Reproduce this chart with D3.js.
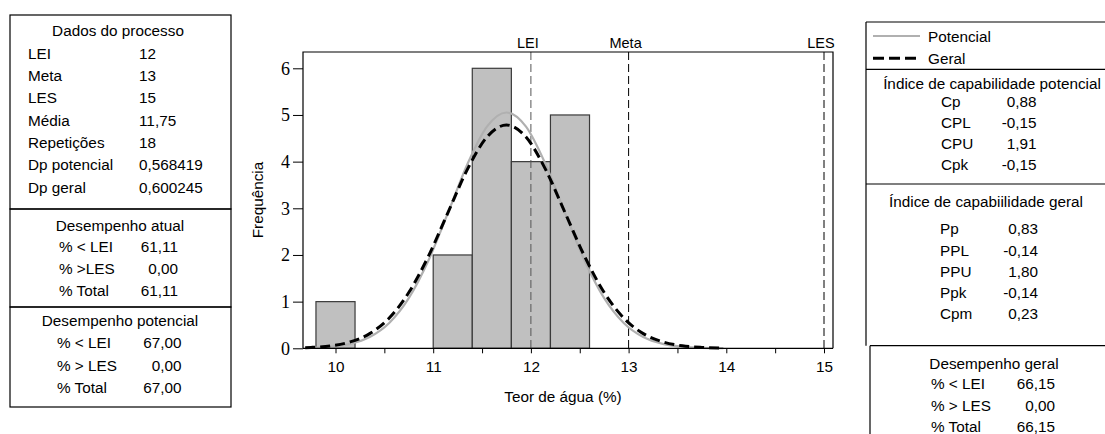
<!DOCTYPE html>
<html>
<head>
<meta charset="utf-8">
<script src="https://cdn.jsdelivr.net/npm/d3@7"></script>
<style>
  body { margin: 0; background: #fff; }
  svg { display: block; }
  text { font-family: "Liberation Sans", Arial, sans-serif; fill: #000; }
</style>
</head>
<body>
<svg id="chart" width="1105" height="434"></svg>
<script>
// ---------- Data ----------
const binLower = [9.8, 11.0, 11.4, 11.8, 12.2];
const binUpper = [10.2, 11.4, 11.8, 12.2, 12.6];
const frequency = [1, 2, 6, 4, 5];

const curveX = [9.69, 9.75, 9.95, 10.15, 10.35, 10.55, 10.75, 10.95, 11.15, 11.35, 11.55, 11.75,
                11.95, 12.15, 12.35, 12.55, 12.75, 12.95, 13.15, 13.35, 13.55, 13.75, 13.97];
const potencialY = [0.007, 0.010, 0.034, 0.096, 0.243, 0.544, 1.075, 1.877, 2.895, 3.945, 4.750, 5.053,
                    4.750, 3.945, 2.895, 1.877, 1.075, 0.544, 0.243, 0.096, 0.034, 0.010, 0.003];
const geralY = [0.013, 0.019, 0.053, 0.137, 0.315, 0.649, 1.195, 1.969, 2.904, 3.833, 4.527, 4.785,
                4.527, 3.833, 2.904, 1.969, 1.195, 0.649, 0.315, 0.137, 0.053, 0.019, 0.005];

const refNames = ["LEI", "Meta", "LES"];
const refValues = [12, 13, 15];

const xTicksMajor = [10, 11, 12, 13, 14, 15];
const xTicksAll = [10, 10.5, 11, 11.5, 12, 12.5, 13, 13.5, 14, 14.5, 15];
const yTicks = [0, 1, 2, 3, 4, 5, 6];

const processTitle = "Dados do processo";
const processLabels = ["LEI", "Meta", "LES", "Média", "Repetições", "Dp potencial", "Dp geral"];
const processValues = ["12", "13", "15", "11,75", "18", "0,568419", "0,600245"];

const atualTitle = "Desempenho atual";
const atualLabels = ["% < LEI", "% >LES", "% Total"];
const atualValues = ["61,11", "0,00", "61,11"];

const potTitle = "Desempenho potencial";
const potLabels = ["% < LEI", "% > LES", "% Total"];
const potValues = ["67,00", "0,00", "67,00"];

const legendNames = ["Potencial", "Geral"];

const cpTitle = "Índice de capabilidade potencial";
const cpLabels = ["Cp", "CPL", "CPU", "Cpk"];
const cpValues = ["0,88", "-0,15", "1,91", "-0,15"];

const ppTitle = "Índice de capabiilidade geral";
const ppLabels = ["Pp", "PPL", "PPU", "Ppk", "Cpm"];
const ppValues = ["0,83", "-0,14", "1,80", "-0,14", "0,23"];

const geralTitle = "Desempenho geral";
const geralLabels = ["% < LEI", "% > LES", "% Total"];
const geralValues = ["66,15", "0,00", "66,15"];

// ---------- Layout ----------
const svg = d3.select("#chart");
svg.append("rect").attr("width", 1105).attr("height", 434).attr("fill", "#fff");

const FS = 15.3;
const plot = { left: 303, right: 833, top: 52, bottom: 348.3 };
const x = d3.scaleLinear().domain([10, 15]).range([335.5, 824]);
const y = d3.scaleLinear().domain([0, 6]).range([348.3, 68.3]);

const g = svg.append("g");

// bars
g.selectAll("rect.bar").data(frequency).enter().append("rect")
  .attr("class", "bar")
  .attr("x", (d, i) => x(binLower[i]))
  .attr("width", (d, i) => x(binUpper[i]) - x(binLower[i]))
  .attr("y", d => y(d))
  .attr("height", d => y(0) - y(d))
  .attr("fill", "#c0c0c0")
  .attr("stroke", "#3a3a3a")
  .attr("stroke-width", 1.2);

// reference lines
g.selectAll("line.ref").data(refValues).enter().append("line")
  .attr("x1", d => x(d)).attr("x2", d => x(d))
  .attr("y1", plot.top).attr("y2", plot.bottom)
  .attr("stroke", (d, i) => i === 0 ? "#555" : "#000")
  .attr("stroke-width", 1)
  .attr("stroke-dasharray", "8,4");

g.selectAll("text.ref").data(refValues).enter().append("text")
  .attr("x", d => x(d) - 3).attr("y", 48)
  .attr("text-anchor", "middle")
  .style("font-size", "14.5px")
  .text((d, i) => refNames[i]);

// curves
const lineGen = ys => d3.line()
  .x((d, i) => x(curveX[i]))
  .y((d, i) => y(ys[i]))
  .curve(d3.curveMonotoneX)(ys);

g.append("path").attr("d", lineGen(potencialY))
  .attr("fill", "none").attr("stroke", "#b0b0b0").attr("stroke-width", 2.2);
g.append("path").attr("d", lineGen(geralY))
  .attr("fill", "none").attr("stroke", "#000").attr("stroke-width", 3)
  .attr("stroke-dasharray", "10,5");

// frame
g.append("path")
  .attr("d", `M${plot.left},${plot.bottom}V${plot.top}H${plot.right}V${plot.bottom}`)
  .attr("fill", "none").attr("stroke", "#000").attr("stroke-width", 1.2);

// x axis
const xAxis = d3.axisBottom(x).tickValues(xTicksAll).tickSize(5).tickPadding(8)
  .tickFormat(d => xTicksMajor.includes(d) ? d3.format("d")(d) : "");
const xg = svg.append("g").attr("transform", `translate(0,${plot.bottom})`).call(xAxis);
xg.select(".domain").attr("d", `M${plot.left},0H${plot.right}`).attr("stroke-width", 1.2);
xg.selectAll("text").style("font-size", FS + "px").style("font-family", "'Liberation Sans', Arial, sans-serif");

// y axis
const yAxis = d3.axisLeft(y).tickValues(yTicks).tickSize(10).tickPadding(3).tickFormat(d3.format("d"));
const yg = svg.append("g").attr("transform", `translate(${plot.left},0)`).call(yAxis);
yg.select(".domain").remove();
yg.selectAll("text").style("font-size", "18px").style("font-family", "'Liberation Serif', 'Times New Roman', serif");

// axis titles
svg.append("text").attr("x", 563).attr("y", 402).attr("text-anchor", "middle")
  .style("font-size", FS + "px").text("Teor de água (%)");
svg.append("text").attr("transform", "translate(263,200) rotate(-90)").attr("text-anchor", "middle")
  .style("font-size", FS + "px").text("Frequência");

// ---------- Tables ----------
function hline(x1, x2, yy) {
  svg.append("line").attr("x1", x1).attr("x2", x2).attr("y1", yy).attr("y2", yy)
    .attr("stroke", "#000").attr("stroke-width", 1.2);
}
function vline(xx, y1, y2) {
  svg.append("line").attr("x1", xx).attr("x2", xx).attr("y1", y1).attr("y2", y2)
    .attr("stroke", "#000").attr("stroke-width", 1.2);
}
function txt(tx, ty, s, anchor) {
  svg.append("text").attr("x", tx).attr("y", ty + 5.5)
    .attr("text-anchor", anchor || "start")
    .style("font-size", FS + "px").text(s);
}

// left boxes
svg.append("rect").attr("x", 10).attr("y", 15).attr("width", 221).attr("height", 194)
  .attr("fill", "none").attr("stroke", "#000").attr("stroke-width", 1.2);
svg.append("rect").attr("x", 10).attr("y", 209).attr("width", 221).attr("height", 98)
  .attr("fill", "none").attr("stroke", "#000").attr("stroke-width", 1.2);
svg.append("rect").attr("x", 10).attr("y", 307).attr("width", 221).attr("height", 100)
  .attr("fill", "none").attr("stroke", "#000").attr("stroke-width", 1.2);

txt(118, 30, processTitle, "middle");
processLabels.forEach((l, i) => {
  txt(28, 53.3 + i * 22.33, l);
  txt(139, 53.3 + i * 22.33, processValues[i]);
});

txt(120, 225, atualTitle, "middle");
atualLabels.forEach((l, i) => {
  txt(59, 246.7 + i * 21.7, l);
  txt(178, 246.7 + i * 21.7, atualValues[i], "end");
});

txt(120, 320, potTitle, "middle");
potLabels.forEach((l, i) => {
  txt(57, 342.7 + i * 22.5, l);
  txt(181.5, 342.7 + i * 22.5, potValues[i], "end");
});

// right boxes
hline(866, 1105, 22);
vline(866, 22, 345.7);
hline(866, 1105, 69.3);
hline(866, 1105, 184);
hline(870, 1105, 345.7);
vline(870, 345.7, 434);

// legend
svg.append("line").attr("x1", 873).attr("x2", 920).attr("y1", 36).attr("y2", 36)
  .attr("stroke", "#b0b0b0").attr("stroke-width", 2.2);
svg.append("line").attr("x1", 873).attr("x2", 920).attr("y1", 58.3).attr("y2", 58.3)
  .attr("stroke", "#000").attr("stroke-width", 3).attr("stroke-dasharray", "11,5");
legendNames.forEach((n, i) => txt(928, i === 0 ? 36 : 58.3, n));

txt(992, 83.3, cpTitle, "middle");
const cpY = [101.7, 122.7, 143, 164];
cpLabels.forEach((l, i) => {
  txt(941, cpY[i], l);
  txt(1036.5, cpY[i], cpValues[i], "end");
});

txt(986, 201.7, ppTitle, "middle");
const ppY = [228, 250, 271, 292.7, 313.3];
ppLabels.forEach((l, i) => {
  txt(940, ppY[i], l);
  txt(1038, ppY[i], ppValues[i], "end");
});

txt(994, 363.3, geralTitle, "middle");
geralLabels.forEach((l, i) => {
  txt(931, 383.3 + i * 21.7, l);
  txt(1055, 383.3 + i * 21.7, geralValues[i], "end");
});
</script>
</body>
</html>
